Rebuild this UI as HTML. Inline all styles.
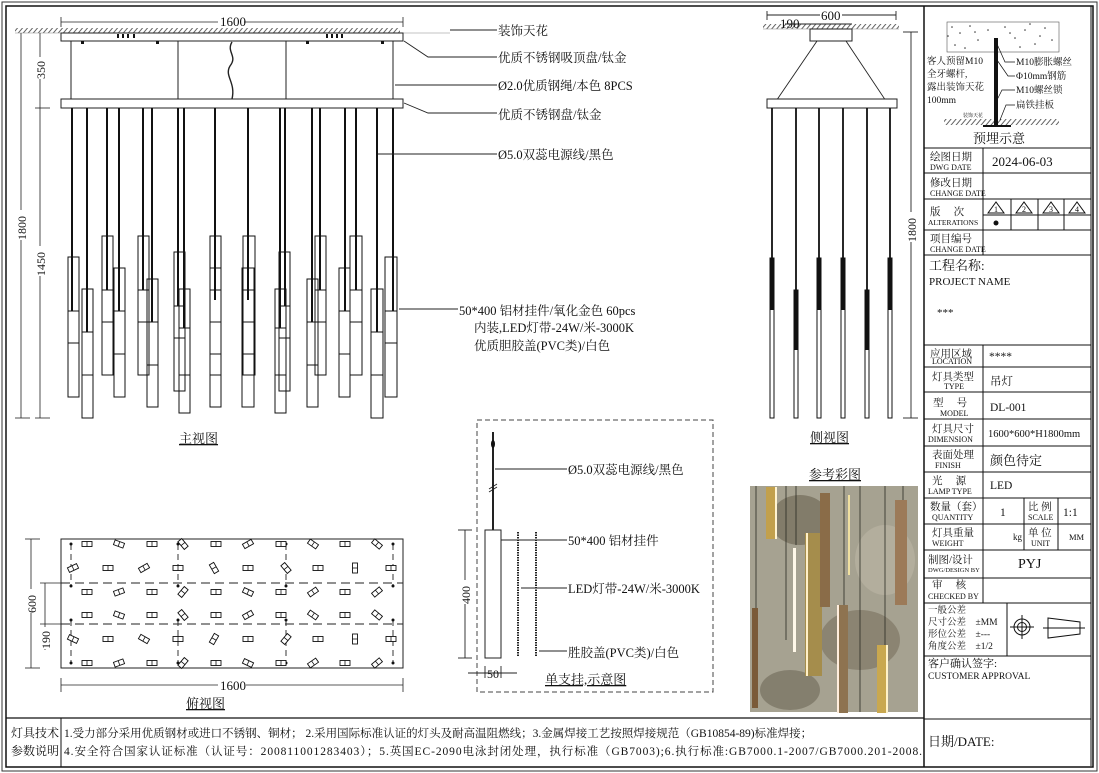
<!DOCTYPE html>
<html><head><meta charset="utf-8"><style>
html,body{margin:0;padding:0;background:#fff;}
svg{display:block;font-family:"Liberation Serif","Noto Serif CJK SC",serif;}
text{fill:#111;}
</style></head><body>
<svg width="1099" height="773" viewBox="0 0 1099 773" xmlns="http://www.w3.org/2000/svg">
<defs>
<pattern id="hatch" width="5" height="6" patternUnits="userSpaceOnUse" patternTransform="skewX(-40)">
<rect width="5" height="6" fill="#fff"/><line x1="1" y1="0" x2="1" y2="6" stroke="#555" stroke-width="1.2"/></pattern>
<g id="mk"><rect x="-5" y="-2.5" width="10" height="5" fill="#fff" stroke="#111" stroke-width="0.9"/><line x1="0" y1="-2.5" x2="0" y2="2.5" stroke="#111" stroke-width="0.8"/></g>
</defs>
<rect x="2" y="2" width="1095" height="769" fill="none" stroke="#333" stroke-width="1"/>
<rect x="6" y="6" width="1087" height="761" fill="none" stroke="#111" stroke-width="1.5"/>
<line x1="924" y1="6" x2="924" y2="767" stroke="#111" stroke-width="1.5"/>
<line x1="6" y1="718" x2="924" y2="718" stroke="#111" stroke-width="1.2"/>
<line x1="61" y1="718" x2="61" y2="767" stroke="#111" stroke-width="1"/>
<text x="11" y="737" font-size="12">灯具技术</text>
<text x="11" y="755" font-size="12">参数说明</text>
<text x="64" y="737" font-size="11.5">1.受力部分采用优质钢材或进口不锈钢、铜材； 2.采用国际标准认证的灯头及耐高温阻燃线；3.金属焊接工艺按照焊接规范（GB10854-89)标准焊接；</text>
<text x="64" y="755" font-size="11.5" textLength="858">4.安全符合国家认证标准（认证号：200811001283403）；5.英国EC-2090电泳封闭处理，执行标准（GB7003);6.执行标准:GB7000.1-2007/GB7000.201-2008.</text>

<rect x="15" y="28" width="385" height="5" fill="url(#hatch)"/>
<line x1="15" y1="33" x2="450" y2="33" stroke="#888" stroke-width="0.6"/>
<rect x="61" y="33" width="342" height="8" fill="#fff" stroke="#222"/>
<g fill="#111"><rect x="117" y="34" width="2" height="4"/><rect x="122" y="34" width="2" height="4"/><rect x="127" y="34" width="2" height="4"/><rect x="133" y="34" width="2" height="4"/>
<rect x="326" y="34" width="2" height="4"/><rect x="331" y="34" width="2" height="4"/><rect x="336" y="34" width="2" height="4"/><rect x="341" y="34" width="2" height="4"/>
<rect x="81" y="41" width="3" height="3"/><rect x="156" y="41" width="3" height="3"/><rect x="306" y="41" width="3" height="3"/><rect x="381" y="41" width="3" height="3"/></g>
<g stroke="#222" stroke-width="1"><line x1="71" y1="41" x2="71" y2="99"/><line x1="178" y1="41" x2="178" y2="99"/><line x1="286" y1="41" x2="286" y2="99"/><line x1="393" y1="41" x2="393" y2="99"/></g>
<path d="M232 42 C226 52,238 56,230 66 C224 76,236 82,232 99" fill="none" stroke="#222" stroke-width="1.4"/>
<rect x="61" y="99" width="342" height="9" fill="#fff" stroke="#222"/>
<g stroke="#222" stroke-width="0.8" fill="none">
<line x1="61" y1="22" x2="403" y2="22"/><line x1="61" y1="17" x2="61" y2="27"/><line x1="403" y1="17" x2="403" y2="27"/>
<line x1="21" y1="33" x2="21" y2="418"/><line x1="15" y1="418" x2="30" y2="418"/>
<line x1="40" y1="33" x2="40" y2="418"/><line x1="35" y1="108" x2="50" y2="108"/><line x1="35" y1="418" x2="50" y2="418"/>
</g>
<rect x="218" y="14" width="26" height="12" fill="#fff"/><text x="220" y="26" font-size="13">1600</text>
<rect x="14" y="210" width="14" height="30" fill="#fff"/><text transform="translate(26,240) rotate(-90)" font-size="12">1800</text>
<rect x="33" y="57" width="14" height="22" fill="#fff"/><text transform="translate(45,79) rotate(-90)" font-size="12">350</text>
<rect x="33" y="246" width="14" height="30" fill="#fff"/><text transform="translate(45,276) rotate(-90)" font-size="12">1450</text>
<g stroke="#111" fill="none" stroke-width="1">
<rect x="68" y="257" width="11" height="140"/><line x1="68" y1="311" x2="79" y2="311"/><line x1="68" y1="343" x2="79" y2="343"/>
<rect x="82" y="289" width="11" height="129"/><line x1="82" y1="332" x2="93" y2="332"/><line x1="82" y1="375" x2="93" y2="375"/>
<rect x="102" y="236" width="11" height="139"/><line x1="102" y1="290" x2="113" y2="290"/><line x1="102" y1="322" x2="113" y2="322"/>
<rect x="114" y="268" width="11" height="129"/><line x1="114" y1="311" x2="125" y2="311"/><line x1="114" y1="354" x2="125" y2="354"/>
<rect x="138" y="236" width="11" height="139"/><line x1="138" y1="290" x2="149" y2="290"/><line x1="138" y1="322" x2="149" y2="322"/>
<rect x="147" y="279" width="11" height="128"/><line x1="147" y1="322" x2="158" y2="322"/><line x1="147" y1="365" x2="158" y2="365"/>
<rect x="174" y="252" width="11" height="139"/><line x1="174" y1="306" x2="185" y2="306"/><line x1="174" y1="338" x2="185" y2="338"/>
<rect x="179" y="289" width="11" height="124"/><line x1="179" y1="328" x2="190" y2="328"/><line x1="179" y1="375" x2="190" y2="375"/>
<rect x="210" y="236" width="11" height="139"/><rect x="210" y="268" width="11" height="139"/><line x1="210" y1="290" x2="221" y2="290"/><line x1="210" y1="322" x2="221" y2="322"/><line x1="210" y1="354" x2="221" y2="354"/>
<rect x="243" y="236" width="12" height="139"/><rect x="242" y="268" width="12" height="139"/><line x1="242" y1="290" x2="255" y2="290"/><line x1="242" y1="322" x2="255" y2="322"/><line x1="242" y1="354" x2="255" y2="354"/>
<rect x="275" y="289" width="11" height="124"/><line x1="275" y1="328" x2="286" y2="328"/><line x1="275" y1="375" x2="286" y2="375"/>
<rect x="279" y="252" width="11" height="139"/><line x1="279" y1="306" x2="290" y2="306"/><line x1="279" y1="338" x2="290" y2="338"/>
<rect x="307" y="279" width="11" height="128"/><line x1="307" y1="322" x2="318" y2="322"/><line x1="307" y1="365" x2="318" y2="365"/>
<rect x="315" y="236" width="11" height="139"/><line x1="315" y1="290" x2="326" y2="290"/><line x1="315" y1="322" x2="326" y2="322"/>
<rect x="339" y="268" width="11" height="129"/><line x1="339" y1="311" x2="350" y2="311"/><line x1="339" y1="354" x2="350" y2="354"/>
<rect x="350" y="236" width="12" height="139"/><line x1="350" y1="290" x2="362" y2="290"/><line x1="350" y1="322" x2="362" y2="322"/>
<rect x="371" y="289" width="12" height="129"/><line x1="371" y1="332" x2="383" y2="332"/><line x1="371" y1="375" x2="383" y2="375"/>
<rect x="385" y="257" width="12" height="140"/><line x1="385" y1="311" x2="397" y2="311"/><line x1="385" y1="343" x2="397" y2="343"/>
</g>
<g stroke="#111" stroke-width="2">
<line x1="72" y1="108" x2="72" y2="311"/><line x1="87" y1="108" x2="87" y2="332"/><line x1="107" y1="108" x2="107" y2="290"/><line x1="119" y1="108" x2="119" y2="311"/>
<line x1="143" y1="108" x2="143" y2="290"/><line x1="152" y1="108" x2="152" y2="322"/><line x1="178" y1="108" x2="178" y2="306"/><line x1="184" y1="108" x2="184" y2="328"/>
<line x1="215" y1="108" x2="215" y2="300"/><line x1="248" y1="108" x2="248" y2="300"/><line x1="280" y1="108" x2="280" y2="328"/><line x1="285" y1="108" x2="285" y2="306"/>
<line x1="312" y1="108" x2="312" y2="322"/><line x1="320" y1="108" x2="320" y2="290"/><line x1="345" y1="108" x2="345" y2="311"/><line x1="356" y1="108" x2="356" y2="290"/>
<line x1="377" y1="108" x2="377" y2="332"/><line x1="393" y1="108" x2="393" y2="311"/>
</g>
<text x="179" y="443" font-size="13" text-decoration="underline">主视图</text>
<g stroke="#222" stroke-width="0.9" fill="none">
<line x1="450" y1="30" x2="497" y2="30"/>
<polyline points="404,41 428,57 497,57"/>
<line x1="395" y1="85" x2="497" y2="85"/>
<polyline points="404,103 428,113 497,113"/>
<line x1="378" y1="154" x2="497" y2="154"/>
<line x1="399" y1="309" x2="458" y2="309"/>
</g>
<g font-size="12.5">
<text x="498" y="35">装饰天花</text>
<text x="498" y="62">优质不锈钢吸顶盘/钛金</text>
<text x="498" y="90">Ø2.0优质钢绳/本色 8PCS</text>
<text x="498" y="119">优质不锈钢盘/钛金</text>
<text x="498" y="159">Ø5.0双蕊电源线/黑色</text>
<text x="459" y="315">50*400 铝材挂件/氧化金色 60pcs</text>
<text x="474" y="332">内装,LED灯带-24W/米-3000K</text>
<text x="474" y="350">优质胆胶盖(PVC类)/白色</text>
</g>

<rect x="763" y="24" width="136" height="5" fill="url(#hatch)"/>
<line x1="763" y1="29" x2="899" y2="29" stroke="#888" stroke-width="0.6"/>
<rect x="810" y="29" width="42" height="12" fill="#fff" stroke="#222"/>
<g stroke="#222" stroke-width="0.9" fill="none">
<polyline points="817,41 772,107"/><polyline points="846,41 890,107"/>
<line x1="767" y1="15" x2="896" y2="15"/><line x1="767" y1="11" x2="767" y2="20"/><line x1="896" y1="11" x2="896" y2="20"/>
<line x1="785" y1="24" x2="852" y2="24"/>
<line x1="911" y1="32" x2="911" y2="418"/><line x1="903" y1="32" x2="918" y2="32"/><line x1="903" y1="418" x2="918" y2="418"/>
</g>
<rect x="767" y="99" width="130" height="9" fill="#fff" stroke="#222"/>
<rect x="820" y="9" width="22" height="12" fill="#fff"/><text x="821" y="20" font-size="13">600</text>
<text x="780" y="28" font-size="13">190</text>
<rect x="904" y="212" width="14" height="30" fill="#fff"/><text transform="translate(916,242) rotate(-90)" font-size="12">1800</text>
<g stroke="#111" stroke-width="1.8">
<line x1="772" y1="108" x2="772" y2="258"/><line x1="796" y1="108" x2="796" y2="290"/><line x1="819" y1="108" x2="819" y2="258"/>
<line x1="843" y1="108" x2="843" y2="258"/><line x1="867" y1="108" x2="867" y2="290"/><line x1="890" y1="108" x2="890" y2="258"/>
</g>
<g fill="#fff" stroke="#111" stroke-width="1">
<rect x="770" y="258" width="4" height="160"/><rect x="794" y="290" width="4" height="128"/><rect x="817" y="258" width="4" height="160"/>
<rect x="841" y="258" width="4" height="160"/><rect x="865" y="290" width="4" height="128"/><rect x="888" y="258" width="4" height="160"/>
</g>
<g fill="#111"><rect x="770" y="258" width="4" height="52"/><rect x="794" y="290" width="4" height="60"/><rect x="817" y="258" width="4" height="52"/><rect x="841" y="258" width="4" height="52"/><rect x="865" y="290" width="4" height="60"/><rect x="888" y="258" width="4" height="52"/></g>
<text x="810" y="442" font-size="13" text-decoration="underline">侧视图</text>

<rect x="61" y="539" width="342" height="129" fill="none" stroke="#222"/>
<g stroke="#222" stroke-width="1" stroke-dasharray="9,5"><line x1="61" y1="583" x2="403" y2="583"/><line x1="61" y1="624" x2="403" y2="624"/></g>
<g stroke="#222" stroke-width="0.9" stroke-dasharray="6,4">
<line x1="71" y1="544" x2="71" y2="586"/><line x1="178" y1="544" x2="178" y2="586"/><line x1="286" y1="544" x2="286" y2="586"/><line x1="393" y1="544" x2="393" y2="586"/>
<line x1="71" y1="620" x2="71" y2="663"/><line x1="178" y1="620" x2="178" y2="663"/><line x1="286" y1="620" x2="286" y2="663"/><line x1="393" y1="620" x2="393" y2="663"/>
</g>
<g fill="#111">
<circle cx="71" cy="544" r="1.5"/><circle cx="178" cy="544" r="1.5"/><circle cx="286" cy="544" r="1.5"/><circle cx="393" cy="544" r="1.5"/>
<circle cx="71" cy="586" r="1.5"/><circle cx="178" cy="586" r="1.5"/><circle cx="286" cy="586" r="1.5"/><circle cx="393" cy="586" r="1.5"/>
<circle cx="71" cy="620" r="1.5"/><circle cx="178" cy="620" r="1.5"/><circle cx="286" cy="620" r="1.5"/><circle cx="393" cy="620" r="1.5"/>
<circle cx="71" cy="663" r="1.5"/><circle cx="178" cy="663" r="1.5"/><circle cx="286" cy="663" r="1.5"/><circle cx="393" cy="663" r="1.5"/>
</g>
<g>
<use href="#mk" x="87" y="544"/><use href="#mk" transform="translate(119,544) rotate(20)"/><use href="#mk" x="152" y="544"/><use href="#mk" transform="translate(183,544) rotate(50)"/><use href="#mk" x="216" y="544"/><use href="#mk" transform="translate(248,544) rotate(-30)"/><use href="#mk" x="281" y="544"/><use href="#mk" transform="translate(313,544) rotate(35)"/><use href="#mk" x="345" y="544"/><use href="#mk" transform="translate(377,544) rotate(40)"/>
<use href="#mk" transform="translate(73,568) rotate(-25)"/><use href="#mk" x="108" y="568"/><use href="#mk" transform="translate(144,568) rotate(-30)"/><use href="#mk" x="178" y="568"/><use href="#mk" transform="translate(214,568) rotate(60)"/><use href="#mk" x="248" y="568"/><use href="#mk" transform="translate(286,568) rotate(50)"/><use href="#mk" x="318" y="568"/><use href="#mk" transform="translate(355,568) rotate(90)"/><use href="#mk" x="391" y="568"/>
<use href="#mk" x="87" y="592"/><use href="#mk" transform="translate(119,592) rotate(-20)"/><use href="#mk" x="152" y="592"/><use href="#mk" transform="translate(183,592) rotate(-50)"/><use href="#mk" x="216" y="592"/><use href="#mk" transform="translate(248,592) rotate(25)"/><use href="#mk" x="281" y="592"/><use href="#mk" transform="translate(313,592) rotate(-35)"/><use href="#mk" x="345" y="592"/><use href="#mk" transform="translate(377,592) rotate(-40)"/>
<use href="#mk" x="87" y="615"/><use href="#mk" transform="translate(119,615) rotate(20)"/><use href="#mk" x="152" y="615"/><use href="#mk" transform="translate(183,615) rotate(50)"/><use href="#mk" x="216" y="615"/><use href="#mk" transform="translate(248,615) rotate(-30)"/><use href="#mk" x="281" y="615"/><use href="#mk" transform="translate(313,615) rotate(35)"/><use href="#mk" x="345" y="615"/><use href="#mk" transform="translate(377,615) rotate(40)"/>
<use href="#mk" transform="translate(73,639) rotate(25)"/><use href="#mk" x="108" y="639"/><use href="#mk" transform="translate(144,639) rotate(30)"/><use href="#mk" x="178" y="639"/><use href="#mk" transform="translate(214,639) rotate(-60)"/><use href="#mk" x="248" y="639"/><use href="#mk" transform="translate(286,639) rotate(-50)"/><use href="#mk" x="318" y="639"/><use href="#mk" transform="translate(355,639) rotate(90)"/><use href="#mk" x="391" y="639"/>
<use href="#mk" x="87" y="663"/><use href="#mk" transform="translate(119,663) rotate(-20)"/><use href="#mk" x="152" y="663"/><use href="#mk" transform="translate(183,663) rotate(-50)"/><use href="#mk" x="216" y="663"/><use href="#mk" transform="translate(248,663) rotate(25)"/><use href="#mk" x="281" y="663"/><use href="#mk" transform="translate(313,663) rotate(-35)"/><use href="#mk" x="345" y="663"/><use href="#mk" transform="translate(377,663) rotate(-40)"/>
</g>
<g stroke="#222" stroke-width="0.8">
<line x1="31" y1="539" x2="31" y2="668"/><line x1="25" y1="539" x2="40" y2="539"/><line x1="25" y1="668" x2="40" y2="668"/>
<line x1="45" y1="583" x2="45" y2="624"/><line x1="40" y1="583" x2="61" y2="583"/><line x1="40" y1="624" x2="61" y2="624"/><line x1="45" y1="624" x2="45" y2="650"/>
<line x1="61" y1="685" x2="403" y2="685"/><line x1="61" y1="678" x2="61" y2="692"/><line x1="403" y1="678" x2="403" y2="692"/>
</g>
<rect x="24" y="589" width="14" height="24" fill="#fff"/><text transform="translate(36,613) rotate(-90)" font-size="12">600</text>
<rect x="38" y="627" width="14" height="22" fill="#fff"/><text transform="translate(50,649) rotate(-90)" font-size="12">190</text>
<rect x="218" y="678" width="28" height="14" fill="#fff"/><text x="220" y="690" font-size="13">1600</text>
<text x="186" y="708" font-size="13" text-decoration="underline">俯视图</text>

<rect x="477" y="420" width="236" height="272" fill="none" stroke="#444" stroke-dasharray="5,3"/>
<line x1="493" y1="432" x2="493" y2="530" stroke="#222" stroke-width="2"/>
<ellipse cx="493" cy="444" rx="2" ry="4" fill="#111"/>
<g stroke="#222" stroke-width="0.9"><line x1="489" y1="489" x2="497" y2="484"/><line x1="489" y1="492" x2="497" y2="487"/></g>
<rect x="485" y="530" width="16" height="128" fill="#fff" stroke="#222"/>
<line x1="518" y1="532" x2="518" y2="657" stroke="#222" stroke-width="2" stroke-dasharray="1.5,1"/>
<line x1="536" y1="532" x2="536" y2="657" stroke="#222" stroke-width="2" stroke-dasharray="1.5,1"/>
<g stroke="#222" stroke-width="0.9">
<line x1="495" y1="469" x2="567" y2="469"/><line x1="501" y1="540" x2="567" y2="540"/><line x1="521" y1="588" x2="567" y2="588"/><line x1="539" y1="651" x2="567" y2="651"/>
<line x1="465" y1="530" x2="465" y2="658"/><line x1="458" y1="530" x2="472" y2="530"/><line x1="458" y1="658" x2="472" y2="658"/>
<line x1="468" y1="673" x2="517" y2="673"/><line x1="485" y1="666" x2="485" y2="678"/><line x1="501" y1="666" x2="501" y2="678"/>
</g>
<rect x="458" y="580" width="14" height="24" fill="#fff"/><text transform="translate(470,604) rotate(-90)" font-size="12">400</text>
<text x="487" y="678" font-size="12">50</text>
<g font-size="12.5">
<text x="568" y="474">Ø5.0双蕊电源线/黑色</text>
<text x="568" y="545">50*400 铝材挂件</text>
<text x="568" y="593">LED灯带-24W/米-3000K</text>
<text x="568" y="657">胜胶盖(PVC类)/白色</text>
</g>
<text x="545" y="684" font-size="13" text-decoration="underline">单支挂,示意图</text>

<text x="809" y="479" font-size="13" text-decoration="underline">参考彩图</text>
<rect x="750" y="486" width="168" height="226" fill="#9d9886"/>
<rect x="750" y="486" width="168" height="226" fill="#b0ab9b" opacity="0.5"/>
<ellipse cx="800" cy="520" rx="30" ry="25" fill="#5e5644" opacity="0.5"/>
<ellipse cx="860" cy="640" rx="40" ry="30" fill="#6a604d" opacity="0.45"/>
<ellipse cx="790" cy="690" rx="30" ry="20" fill="#5b5445" opacity="0.45"/>
<ellipse cx="885" cy="560" rx="30" ry="35" fill="#bdb6a5" opacity="0.6"/>
<g stroke="#2a2a22" stroke-width="0.8">
<line x1="756" y1="486" x2="756" y2="612"/><line x1="786" y1="486" x2="786" y2="640"/><line x1="796" y1="486" x2="796" y2="545"/><line x1="844" y1="486" x2="844" y2="712"/><line x1="860" y1="486" x2="860" y2="712"/><line x1="885" y1="486" x2="885" y2="712"/><line x1="903" y1="486" x2="903" y2="500"/>
</g>
<rect x="766" y="487" width="11" height="52" fill="#c2a04c"/><rect x="775" y="487" width="2" height="52" fill="#fff3d0"/>
<rect x="805" y="533" width="17" height="143" fill="#a58d4c"/><rect x="806" y="533" width="2" height="143" fill="#fff0c8"/>
<rect x="820" y="493" width="10" height="114" fill="#8a6c48"/>
<rect x="793" y="548" width="3" height="104" fill="#fff8e8"/>
<rect x="837" y="605" width="11" height="108" fill="#8e7350"/><rect x="837" y="605" width="2" height="108" fill="#ffeedd"/>
<rect x="877" y="645" width="11" height="68" fill="#c9a84f"/><rect x="886" y="645" width="2" height="68" fill="#fff2c8"/>
<rect x="895" y="500" width="12" height="105" fill="#9c7a58"/>
<rect x="752" y="608" width="6" height="100" fill="#7a5a38"/>
<rect x="848" y="495" width="2" height="80" fill="#f0e0a0"/>

<g stroke="#111" stroke-width="1" fill="none">
<line x1="924" y1="148" x2="1091" y2="148"/>
<line x1="924" y1="173" x2="1091" y2="173"/>
<line x1="924" y1="199" x2="1091" y2="199"/>
<line x1="983" y1="215" x2="1091" y2="215"/>
<line x1="924" y1="230" x2="1091" y2="230"/>
<line x1="924" y1="255" x2="1091" y2="255"/>
<line x1="924" y1="345" x2="1091" y2="345"/>
<line x1="924" y1="367" x2="1091" y2="367"/>
<line x1="924" y1="392" x2="1091" y2="392"/>
<line x1="924" y1="419" x2="1091" y2="419"/>
<line x1="924" y1="446" x2="1091" y2="446"/>
<line x1="924" y1="472" x2="1091" y2="472"/>
<line x1="924" y1="498" x2="1091" y2="498"/>
<line x1="924" y1="524" x2="1091" y2="524"/>
<line x1="924" y1="550" x2="1091" y2="550"/>
<line x1="924" y1="578" x2="1091" y2="578"/>
<line x1="924" y1="603" x2="1091" y2="603"/>
<line x1="924" y1="656" x2="1091" y2="656"/>
<line x1="924" y1="719" x2="1091" y2="719"/>
<line x1="1091" y1="6" x2="1091" y2="766"/>
<line x1="983" y1="148" x2="983" y2="255"/>
<line x1="983" y1="345" x2="983" y2="603"/>
<line x1="1011" y1="199" x2="1011" y2="230"/><line x1="1038" y1="199" x2="1038" y2="230"/><line x1="1064" y1="199" x2="1064" y2="230"/>
<line x1="1024" y1="498" x2="1024" y2="550"/><line x1="1058" y1="498" x2="1058" y2="550"/>
<line x1="1007" y1="603" x2="1007" y2="656"/>
</g>
<rect x="947" y="22" width="112" height="30" fill="#fff" stroke="#555" stroke-width="0.6"/>
<g fill="#333">
<circle cx="952" cy="27" r="0.8"/><circle cx="960" cy="33" r="0.8"/><circle cx="970" cy="26" r="0.8"/><circle cx="978" cy="40" r="0.8"/><circle cx="988" cy="30" r="0.8"/><circle cx="1005" cy="27" r="0.8"/><circle cx="1015" cy="38" r="0.8"/><circle cx="1025" cy="30" r="0.8"/><circle cx="1035" cy="44" r="0.8"/><circle cx="1045" cy="28" r="0.8"/><circle cx="1052" cy="40" r="0.8"/><circle cx="955" cy="45" r="0.8"/><circle cx="965" cy="48" r="0.8"/><circle cx="1020" cy="47" r="0.8"/><circle cx="1040" cy="36" r="0.8"/><circle cx="995" cy="44" r="0.8"/><circle cx="975" cy="32" r="0.8"/><circle cx="1010" cy="33" r="0.8"/><circle cx="1030" cy="24" r="0.8"/><circle cx="948" cy="36" r="0.8"/>
</g>
<rect x="944" y="119" width="115" height="6" fill="url(#hatch)"/>
<rect x="994" y="38" width="4" height="88" fill="#111"/>
<rect x="983" y="125" width="28" height="2" fill="#111"/>
<g stroke="#111" stroke-width="0.7" fill="none">
<polyline points="997,44 1005,62 1015,62"/><polyline points="997,60 1008,76 1015,76"/><polyline points="997,100 1002,90 1015,90"/><polyline points="1000,120 1006,105 1015,105"/>
</g>
<g font-size="9.5">
<text x="1016" y="65">M10膨胀螺丝</text>
<text x="1016" y="79">Φ10mm钢筋</text>
<text x="1016" y="93">M10螺丝锁</text>
<text x="1016" y="108">扁铁挂板</text>
<text x="927" y="64">客人预留M10</text>
<text x="927" y="77">全牙螺杆,</text>
<text x="927" y="90">露出装饰天花</text>
<text x="927" y="103">100mm</text>
<text x="963" y="117" font-size="5">装饰天花</text>
</g>
<text x="973" y="143" font-size="13">预埋示意</text>
<g font-size="10.5">
<text x="930" y="160">绘图日期</text><text x="930" y="170" font-size="8">DWG DATE</text>
<text x="930" y="186">修改日期</text><text x="930" y="196" font-size="8">CHANGE DATE</text>
<text x="930" y="215">版　 次</text><text x="928" y="225" font-size="7.5">ALTERATIONS</text>
<text x="930" y="242">项目编号</text><text x="930" y="252" font-size="8">CHANGE DATE</text>
<text x="930" y="357">应用区域</text><text x="932" y="364" font-size="8">LOCATION</text>
<text x="932" y="380">灯具类型</text><text x="944" y="389" font-size="8">TYPE</text>
<text x="933" y="406">型　 号</text><text x="940" y="416" font-size="8">MODEL</text>
<text x="932" y="432">灯具尺寸</text><text x="928" y="442" font-size="8">DIMENSION</text>
<text x="932" y="458">表面处理</text><text x="935" y="468" font-size="8">FINISH</text>
<text x="932" y="484">光　 源</text><text x="928" y="494" font-size="8">LAMP TYPE</text>
<text x="930" y="510">数量（套）</text><text x="932" y="520" font-size="8">QUANTITY</text>
<text x="932" y="536">灯具重量</text><text x="932" y="546" font-size="8">WEIGHT</text>
<text x="928" y="563">制图/设计</text><text x="928" y="572" font-size="6.5">DWG/DESIGN BY</text>
<text x="932" y="588">审　 核</text><text x="928" y="599" font-size="8">CHECKED BY</text>
<text x="1028" y="510">比 例</text><text x="1028" y="520" font-size="8">SCALE</text>
<text x="1028" y="536">单 位</text><text x="1031" y="546" font-size="8">UNIT</text>
</g>
<text x="992" y="166" font-size="13">2024-06-03</text>
<g stroke="#111" fill="none" stroke-width="1">
<path d="M988 213 L996 202 L1004 213 Z"/><path d="M1016 213 L1024 202 L1032 213 Z"/><path d="M1043 213 L1051 202 L1059 213 Z"/><path d="M1069 213 L1077 202 L1085 213 Z"/>
</g>
<g font-size="8"><text x="994" y="212">1</text><text x="1022" y="212">2</text><text x="1049" y="212">3</text><text x="1075" y="212">4</text></g>
<circle cx="996" cy="223" r="2.5" fill="#111"/>
<text x="929" y="270" font-size="13">工程名称:</text>
<text x="929" y="285" font-size="11">PROJECT NAME</text>
<text x="937" y="316" font-size="11">***</text>
<g font-size="11.5">
<text x="989" y="360">****</text>
<text x="990" y="385">吊灯</text>
<text x="990" y="411">DL-001</text>
<text x="988" y="437" font-size="10.5">1600*600*H1800mm</text>
<text x="990" y="465" font-size="13">颜色待定</text>
<text x="990" y="489">LED</text>
<text x="1000" y="516">1</text>
<text x="1063" y="516">1:1</text>
<text x="1013" y="540" font-size="9">kg</text>
<text x="1069" y="540" font-size="8.5">MM</text>
<text x="1018" y="568" font-size="14">PYJ</text>
</g>
<g font-size="9.5">
<text x="928" y="613">一般公差</text>
<text x="928" y="625">尺寸公差　±MM</text>
<text x="928" y="637">形位公差　±---</text>
<text x="928" y="649">角度公差　±1/2</text>
</g>
<g stroke="#111" fill="none" stroke-width="1">
<circle cx="1022" cy="627" r="8"/><circle cx="1022" cy="627" r="4.5"/><line x1="1010" y1="627" x2="1034" y2="627"/><line x1="1022" y1="615" x2="1022" y2="639"/>
<path d="M1048 618 L1080 622 L1080 634 L1048 638 Z"/><line x1="1043" y1="628" x2="1085" y2="628"/>
</g>
<text x="928" y="667" font-size="11">客户确认签字:</text>
<text x="928" y="679" font-size="9.5">CUSTOMER APPROVAL</text>
<text x="928" y="746" font-size="13">日期/DATE:</text>
</svg>
</body></html>
